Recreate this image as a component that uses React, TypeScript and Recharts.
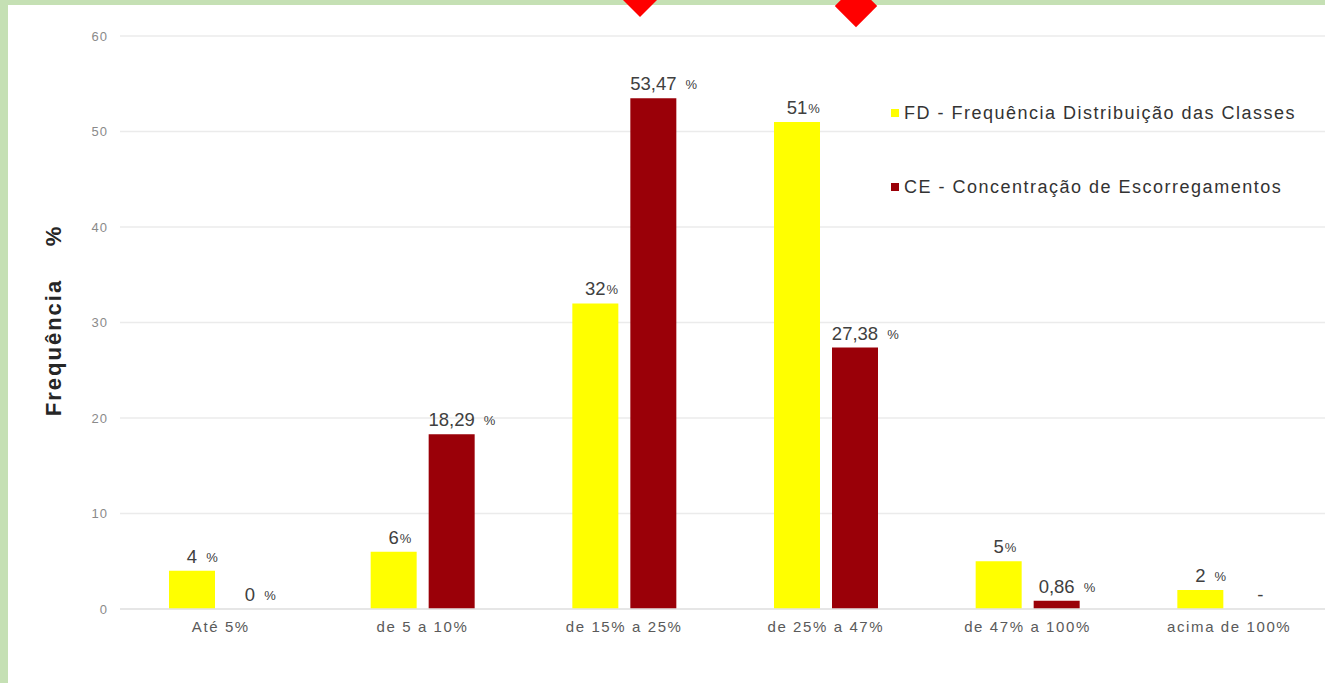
import React from 'react';
import { BarChart, Bar, XAxis, YAxis, CartesianGrid, LabelList } from 'recharts';

const categories = ['Até 5%', 'de 5 a 10%', 'de 15% a 25%', 'de 25% a 47%', 'de 47% a 100%', 'acima de 100%'];
const fdValues = [4, 6, 32, 51, 5, 2];
const ceValues = [0, 18.29, 53.47, 27.38, 0.86, 0];
const fdLabels = ['4 %', '6%', '32%', '51%', '5%', '2 %'];
const ceLabels = ['0 %', '18,29 %', '53,47 %', '27,38 %', '0,86 %', '-'];
const yTicks = [0, 10, 20, 30, 40, 50, 60];
const seriesNames = ['FD - Frequência Distribuição das Classes', 'CE - Concentração de Escorregamentos'];
const seriesColors = ['#ffff00', '#9a0008'];

const data = categories.map((c, i) => ({
  cat: c,
  fd: fdValues[i],
  ce: ceValues[i],
  fdLabel: fdLabels[i],
  ceLabel: ceLabels[i],
}));

const FONT = '"Liberation Sans", Arial, sans-serif';
const NUM_SIZE = 18.5;

const charW: Record<string, number> = { ',': 0.278, '.': 0.278, ' ': 0.278, '-': 0.333 };
const textWidth = (s: string, size: number) =>
  s.split('').reduce((acc, ch) => acc + (charW[ch] ?? 0.556), 0) * size;

const ValueLabel = (props: any) => {
  const { x, y, width, value } = props;
  const str = String(value);
  const cx = Number(x) + Number(width) / 2;
  const base = Number(y) - 8;
  const m = str.match(/^(.*?)(\s?)%$/);
  if (!m) {
    return (
      <text x={cx + 2} y={base} textAnchor="middle" fontFamily={FONT} fontSize={NUM_SIZE} fill="#404040">
        {str}
      </text>
    );
  }
  const num = m[1];
  const spaced = m[2].length > 0;
  const w = textWidth(num, NUM_SIZE);
  return (
    <g>
      <text x={cx} y={base} textAnchor="middle" fontFamily={FONT} fontSize={NUM_SIZE} fill="#404040">
        {num}
      </text>
      <text x={cx + w / 2 + (spaced ? 9 : 1)} y={base - 1} textAnchor="start" fontFamily={FONT} fontSize={13} fill="#404040">
        %
      </text>
    </g>
  );
};

const YTitle = (props: any) => {
  const vb = props.viewBox || {};
  const cy = vb.y + vb.height / 2 - 2;
  const x = 61;
  return (
    <text
      x={x}
      y={cy}
      textAnchor="middle"
      transform={`rotate(-90, ${x}, ${cy})`}
      fontFamily={FONT}
      fontWeight="bold"
      fontSize={22}
      letterSpacing={2}
      fill="#262626"
    >
      {'Frequência\u00a0\u00a0\u00a0\u00a0%'}
    </text>
  );
};

const diamond = (left: number, top: number, size: number): React.CSSProperties => ({
  position: 'absolute',
  left,
  top,
  width: size,
  height: size,
  background: '#ff0000',
  transform: 'rotate(45deg)',
});

export default function App() {
  return (
    <div style={{ position: 'absolute', left: 0, top: 0, width: 1325, height: 683, overflow: 'hidden', background: '#fff' }}>
      <div style={{ position: 'absolute', left: 0, top: 0 }}>
        <BarChart
          width={1330}
          height={683}
          data={data}
          margin={{ top: 36, right: 0, bottom: 34, left: 0 }}
          barSize={46}
          barGap={12}
        >
          <CartesianGrid vertical={false} stroke="#ebebeb" strokeWidth={1.5} />
          <XAxis
            dataKey="cat"
            height={40}
            tickLine={false}
            tickSize={0}
            tickMargin={12}
            axisLine={{ stroke: '#e3e3e3', strokeWidth: 1.5 }}
            tick={{ fontFamily: FONT, fontSize: 15, fill: '#5a5a5a', letterSpacing: 1.6 }}
            interval={0}
          />
          <YAxis
            width={120}
            domain={[0, 60]}
            ticks={yTicks}
            tickLine={false}
            axisLine={false}
            tickSize={0}
            tickMargin={12}
            tick={{ fontFamily: FONT, fontSize: 13, fill: '#8a8a8a', letterSpacing: 1 }}
            label={<YTitle />}
          />
          <Bar dataKey="fd" name={seriesNames[0]} fill={seriesColors[0]} isAnimationActive={false}>
            <LabelList dataKey="fdLabel" content={<ValueLabel />} />
          </Bar>
          <Bar dataKey="ce" name={seriesNames[1]} fill={seriesColors[1]} minPointSize={0.05} isAnimationActive={false}>
            <LabelList dataKey="ceLabel" content={<ValueLabel />} />
          </Bar>
        </BarChart>
      </div>
      <div style={{ position: 'absolute', left: 891, top: 103, fontFamily: FONT }}>
        {seriesNames.map((n, i) => (
          <div key={n} style={{ display: 'flex', alignItems: 'center', height: 20, marginBottom: 54 }}>
            <span style={{ display: 'inline-block', width: 8, height: 8, background: seriesColors[i], marginRight: 5 }} />
            <span style={{ fontSize: 18, letterSpacing: 1.5, color: '#333', whiteSpace: 'nowrap' }}>{n}</span>
          </div>
        ))}
      </div>
      <div style={{ position: 'absolute', left: 0, top: 0, width: 1325, height: 5, background: '#c5e0b4' }} />
      <div style={{ position: 'absolute', left: 0, top: 0, width: 8, height: 683, background: '#c5e0b4' }} />
      <div style={diamond(628, -12, 24)} />
      <div style={diamond(841, -9, 30)} />
    </div>
  );
}
